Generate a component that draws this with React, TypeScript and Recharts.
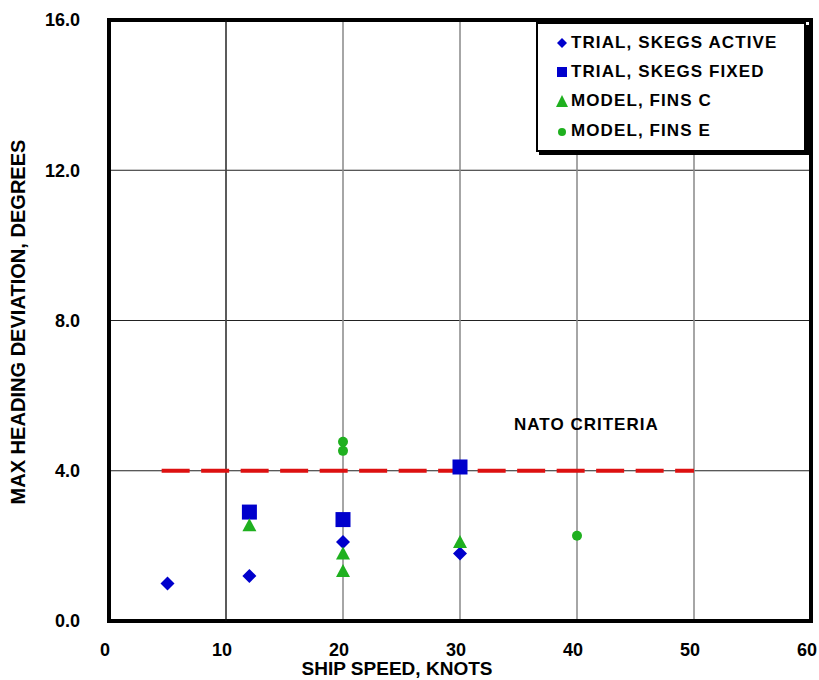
import React from 'react';
import {
  ScatterChart, Scatter, XAxis, YAxis, CartesianGrid, ReferenceLine,
  ReferenceArea, ReferenceDot, Legend,
} from 'recharts';

const xTicks = [0, 10, 20, 30, 40, 50, 60];
const yTicks = [0, 4, 8, 12, 16];

const trialActive = [
  { x: 5, y: 1.0 }, { x: 12, y: 1.2 }, { x: 20, y: 2.1 }, { x: 30, y: 1.8 },
];
const trialFixed = [
  { x: 12, y: 2.9 }, { x: 20, y: 2.7 }, { x: 30, y: 4.1 },
];
const modelFinsC = [
  { x: 12, y: 2.55 }, { x: 20, y: 1.8 }, { x: 20, y: 1.33 }, { x: 30, y: 2.1 },
];
const modelFinsE = [
  { x: 20, y: 4.77 }, { x: 20, y: 4.53 }, { x: 40, y: 2.27 },
];
const natoStart = 4.5;
const natoEnd = 50;
const natoLevel = 4.0;
const natoLabelPos = { x: 40.8, y: 5.25 };

const BLUE = '#0000CC';
const GREEN = '#1FB01F';
const RED = '#DD1111';
const FONT = '"Liberation Sans", Arial, sans-serif';
const NARROW = '"Liberation Sans Narrow", "Liberation Sans", Arial, sans-serif';

const legendItems = [
  { name: 'TRIAL, SKEGS ACTIVE', kind: 'diamond' },
  { name: 'TRIAL, SKEGS FIXED', kind: 'square' },
  { name: 'MODEL, FINS C', kind: 'triangle' },
  { name: 'MODEL, FINS E', kind: 'circle' },
];

const Diamond = (p: any) => {
  const { cx, cy } = p;
  const h = 7;
  return <path d={`M${cx},${cy - h}L${cx + h},${cy}L${cx},${cy + h}L${cx - h},${cy}Z`} fill={BLUE} />;
};
const Square = (p: any) => {
  const { cx, cy } = p;
  const s = 15;
  return <rect x={cx - s / 2} y={cy - s / 2} width={s} height={s} fill={BLUE} />;
};
const Triangle = (p: any) => {
  const { cx, cy } = p;
  return <path d={`M${cx},${cy - 7}L${cx + 7},${cy + 6}L${cx - 7},${cy + 6}Z`} fill={GREEN} />;
};
const Circle = (p: any) => {
  const { cx, cy } = p;
  return <circle cx={cx} cy={cy} r={5} fill={GREEN} />;
};

const LegendMarker = ({ kind }: { kind: string }) => {
  return (
    <svg width={14} height={14} style={{ display: 'block' }}>
      {kind === 'diamond' && <path d="M7,2L12,7L7,12L2,7Z" fill={BLUE} />}
      {kind === 'square' && <rect x={2} y={2} width={10} height={10} fill={BLUE} />}
      {kind === 'triangle' && <path d="M7,1L13,13L1,13Z" fill={GREEN} />}
      {kind === 'circle' && <circle cx={7} cy={8} r={4} fill={GREEN} />}
    </svg>
  );
};

const LegendBox = () => (
  <div
    style={{
      width: 266,
      height: 122,
      border: '2px solid #000',
      boxShadow: '3px 3px 0 #000',
      background: '#fff',
      boxSizing: 'content-box',
      paddingTop: 4,
    }}
  >
    {legendItems.map((it) => (
      <div
        key={it.name}
        style={{ display: 'flex', alignItems: 'center', height: 29.3, paddingLeft: 17 }}
      >
        <LegendMarker kind={it.kind} />
        <span
          style={{
            marginLeft: 2,
            fontFamily: FONT,
            fontWeight: 'bold',
            fontSize: 17,
            letterSpacing: 1.1,
            color: '#000',
          }}
        >
          {it.name}
        </span>
      </div>
    ))}
  </div>
);

const YTitle = () => (
  <text
    x={0}
    y={0}
    transform="translate(25,322) rotate(-90)"
    textAnchor="middle"
    fontFamily={NARROW}
    fontWeight="bold"
    fontSize={21}
    textLength={365}
    lengthAdjust="spacingAndGlyphs"
    fill="#000"
  >
    MAX HEADING DEVIATION, DEGREES
  </text>
);

const XTitle = () => (
  <text
    x={397}
    y={675}
    textAnchor="middle"
    fontFamily={NARROW}
    fontWeight="bold"
    fontSize={19}
    textLength={191}
    lengthAdjust="spacingAndGlyphs"
    fill="#000"
  >
    SHIP SPEED, KNOTS
  </text>
);

const tickStyle = { fontFamily: FONT, fontWeight: 'bold', fontSize: 18, fill: '#000' };

export default function App() {
  return (
    <div style={{ position: 'absolute', left: 0, top: 0, background: '#fff' }}>
      <ScatterChart width={819} height={680} margin={{ top: 20, right: 8, bottom: 29, left: 29 }}>
        <CartesianGrid vertical={false} stroke="#222" strokeWidth={1} />
        <CartesianGrid horizontal={false} stroke="#888" strokeWidth={1.5} />
        <ReferenceLine x={10} stroke="#111" strokeWidth={1} />
        <XAxis
          type="number"
          dataKey="x"
          domain={[0, 60]}
          ticks={xTicks}
          interval={0}
          tickLine={false}
          axisLine={false}
          tickSize={0}
          tickMargin={22}
          height={30}
          tick={{ ...tickStyle, dx: -4 }}
          label={<XTitle />}
        />
        <YAxis
          type="number"
          dataKey="y"
          domain={[0, 16]}
          ticks={yTicks}
          interval={0}
          tickLine={false}
          axisLine={false}
          tickSize={0}
          tickMargin={29}
          width={80}
          tick={tickStyle}
          tickFormatter={(v: number) => v.toFixed(1)}
          label={<YTitle />}
        />
        <ReferenceArea x1={0} x2={60} y1={0} y2={16} fill="none" stroke="#000" strokeWidth={4} ifOverflow="visible" />
        <ReferenceLine
          segment={[{ x: natoStart, y: natoLevel }, { x: natoEnd, y: natoLevel }]}
          stroke={RED}
          strokeWidth={4}
          strokeDasharray="28 11.5"
        />
        <ReferenceDot
          x={natoLabelPos.x}
          y={natoLabelPos.y}
          r={0}
          fill="none"
          stroke="none"
          label={{
            value: 'NATO CRITERIA',
            position: 'center',
            fontFamily: FONT,
            fontWeight: 'bold',
            fontSize: 17,
            letterSpacing: 1,
            fill: '#000',
          }}
        />
        <Scatter name="TRIAL, SKEGS ACTIVE" data={trialActive} shape={<Diamond />} isAnimationActive={false} />
        <Scatter name="TRIAL, SKEGS FIXED" data={trialFixed} shape={<Square />} isAnimationActive={false} />
        <Scatter name="MODEL, FINS C" data={modelFinsC} shape={<Triangle />} isAnimationActive={false} />
        <Scatter name="MODEL, FINS E" data={modelFinsE} shape={<Circle />} isAnimationActive={false} />
        <Legend
          layout="horizontal"
          verticalAlign="middle"
          align="center"
          wrapperStyle={{ top: 22, left: 536, width: 272, height: 132 }}
          content={() => <LegendBox />}
        />
      </ScatterChart>
    </div>
  );
}
